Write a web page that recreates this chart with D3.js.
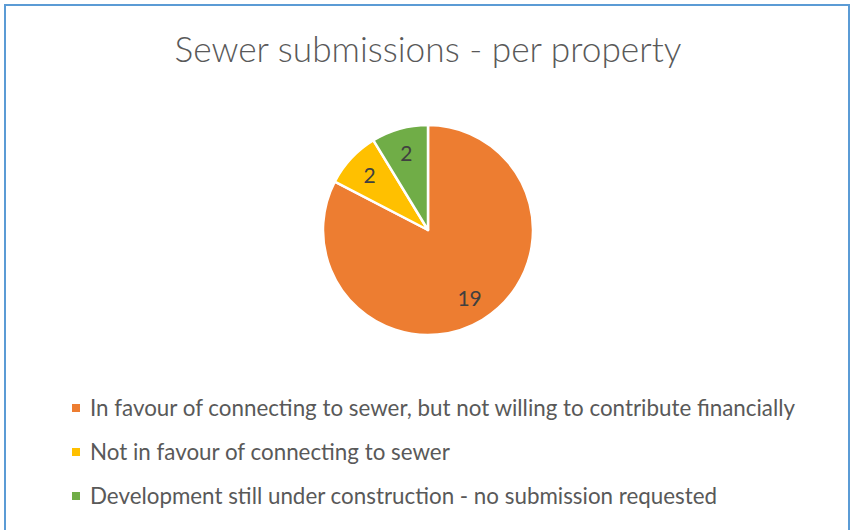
<!DOCTYPE html>
<html>
<head>
<meta charset="utf-8">
<script src="https://cdn.jsdelivr.net/npm/d3@7"></script>
<style>
  html, body { margin: 0; padding: 0; background: #fff; }
  svg { display: block; }
</style>
</head>
<body>
<script>
const titleText = "Sewer submissions - per property";
const categories = [
  "In favour of connecting to sewer, but not willing to contribute financially",
  "Not in favour of connecting to sewer",
  "Development still under construction - no submission requested"
];
const values = [19, 2, 2];
const colors = ["#ED7D31", "#FFC000", "#70AD47"];

const W = 852, H = 530;
const svg = d3.select("body").append("svg").attr("width", W).attr("height", H);

// chart border
svg.append("rect")
  .attr("x", 5).attr("y", 5).attr("width", 844).attr("height", 540)
  .attr("fill", "#fff").attr("stroke", "#5B9BD5").attr("stroke-width", 2);

const font = "Lato, 'Open Sans', sans-serif";

function fitText(sel, targetWidth) {
  const node = sel.node();
  const fs = parseFloat(sel.attr("font-size"));
  const w = node.getComputedTextLength();
  sel.attr("font-size", (fs * targetWidth / w).toFixed(2));
}

// title
const title = svg.append("text")
  .attr("x", 428).attr("y", 62)
  .attr("text-anchor", "middle")
  .attr("font-family", font)
  .attr("font-weight", 300)
  .attr("font-size", 30)
  .attr("fill", "#595959")
  .text(titleText);
fitText(title, 507);

// pie
const cx = 428, cy = 230, r = 105;
const pie = d3.pie().sort(null).value(d => d);
const arcs = pie(values);
const arc = d3.arc().innerRadius(0).outerRadius(r);
const labelArc = d3.arc().innerRadius(80).outerRadius(80);

const g = svg.append("g").attr("transform", `translate(${cx},${cy})`);
g.selectAll("path.slice")
  .data(arcs)
  .join("path")
  .attr("class", "slice")
  .attr("d", arc)
  .attr("fill", (d, i) => colors[i])
  .attr("stroke", "#fff")
  .attr("stroke-width", 2.5)
  .attr("stroke-linejoin", "round");

g.selectAll("text.lbl")
  .data(arcs)
  .join("text")
  .attr("class", "lbl")
  .attr("transform", d => `translate(${labelArc.centroid(d)})`)
  .attr("text-anchor", "middle")
  .attr("dy", "0.36em")
  .attr("font-family", font)
  .attr("font-size", 21)
  .attr("fill", "#404040")
  .text(d => d.data);

// legend
const legendY = d3.scalePoint().domain(categories).range([408, 496]);
const lg = svg.append("g");
const items = lg.selectAll("g.item")
  .data(categories)
  .join("g")
  .attr("class", "item")
  .attr("transform", d => `translate(0,${legendY(d)})`);
items.append("rect")
  .attr("x", 72).attr("y", -4).attr("width", 8).attr("height", 8)
  .attr("fill", (d, i) => colors[i]);
const ltexts = items.append("text")
  .attr("x", 90).attr("dy", "0.35em")
  .attr("font-family", font)
  .attr("font-size", 19)
  .attr("fill", "#595959")
  .text(d => d);
// fit legend font to reference width of first entry
const first = ltexts.filter((d, i) => i === 0);
const w0 = first.node().getComputedTextLength();
const lfs = (19 * 705 / w0).toFixed(2);
ltexts.attr("font-size", lfs);
</script>
</body>
</html>
